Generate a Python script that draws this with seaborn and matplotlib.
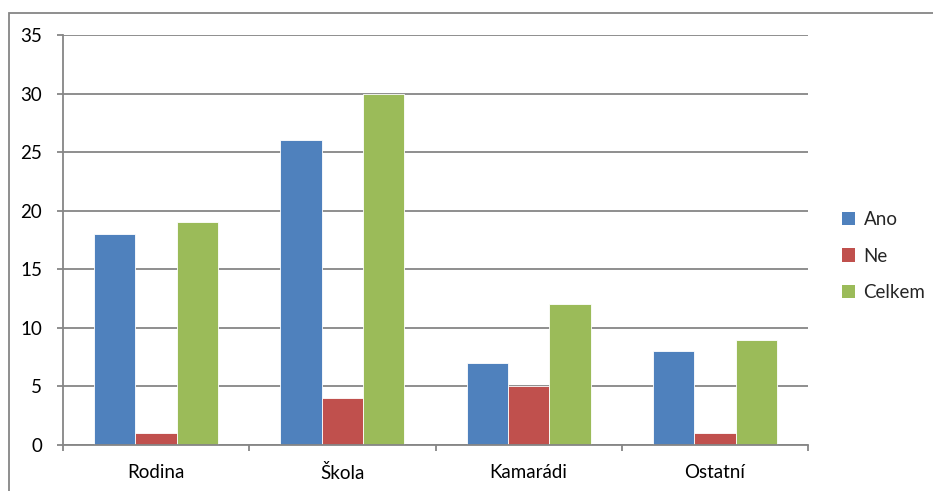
import matplotlib
matplotlib.use("Agg")
import matplotlib.pyplot as plt
from matplotlib.patches import Rectangle, Patch
import seaborn as sns
import pandas as pd

categories = ["Rodina", "Škola", "Kamarádi", "Ostatní"]
series = ["Ano", "Ne", "Celkem"]
ano = [18, 26, 7, 8]
ne = [1, 4, 5, 1]
celkem = [19, 30, 12, 9]
colors = ["#4F81BD", "#C0504D", "#9BBB59"]
yticks = [0, 5, 10, 15, 20, 25, 30, 35]

df = pd.DataFrame({
    "kategorie": categories * 3,
    "serie": [s for s in series for _ in categories],
    "hodnota": ano + ne + celkem,
})

sns.set_theme(style="white")
plt.rcParams["font.family"] = ["Lato", "DejaVu Sans"]

W, H = 933, 491
fs = 13.5
fig = plt.figure(figsize=(W / 100, H / 100), dpi=100)
ax = fig.add_axes([63 / W, 1 - 445 / H, (808 - 63) / W, (445 - 35) / H])

sns.barplot(data=df, x="kategorie", y="hodnota", hue="serie",
            order=categories, hue_order=series, palette=colors,
            width=3 / 4.5, gap=0, ax=ax, legend=False,
            edgecolor="white", linewidth=0.6, saturation=1)

grid_c = "#868686"
ax.set_ylim(0, 35)
ax.set_xlim(-0.5, len(categories) - 0.5)
ax.set_yticks(yticks)
ax.set_yticklabels([str(t) for t in yticks])
for t in yticks:
    ax.axhline(t, color=grid_c, lw=1.3, zorder=0)

ax.set_xlabel("")
ax.set_ylabel("")
for side in ["top", "right"]:
    ax.spines[side].set_visible(False)
ax.spines["left"].set_color(grid_c)
ax.spines["left"].set_linewidth(1.3)
ax.spines["bottom"].set_color(grid_c)
ax.spines["bottom"].set_linewidth(1.3)

# category boundaries get the tick marks, labels sit centred in each group
ax.set_xticks([i - 0.5 for i in range(len(categories) + 1)], minor=True)
ax.tick_params(axis="x", which="minor", length=4, width=1.3, color=grid_c, direction="out", bottom=True)
ax.tick_params(axis="x", which="major", length=0, pad=14, labelsize=fs, colors="black")
ax.tick_params(axis="y", which="major", length=4, width=1.3, color=grid_c, direction="out",
               left=True, pad=11, labelsize=fs, labelcolor="black")
ax.set_axisbelow(True)

# chart-area frame
fig.patches.append(Rectangle((9 / W, -0.1), 1.2, 1 - 13 / H + 0.1, transform=fig.transFigure,
                             fill=False, edgecolor=grid_c, lw=1.3, zorder=0))

handles = [Patch(facecolor=c, edgecolor="none") for c in colors]
fig.legend(handles, series, loc="center left", bbox_to_anchor=(825 / W, 1 - 256 / H),
           frameon=False, fontsize=fs, handlelength=0.7, handleheight=0.7,
           handletextpad=0.45, labelspacing=1.05)

fig.savefig("out.png", dpi=100)
